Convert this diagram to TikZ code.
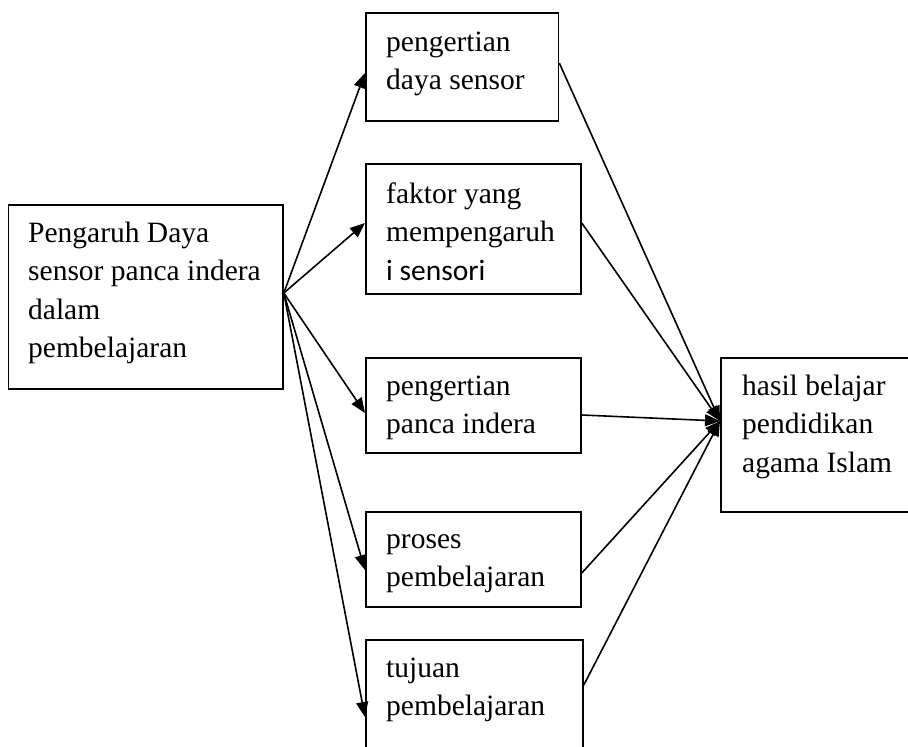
\documentclass[tikz,border=0pt]{standalone}
\usepackage{fontspec}
\setmainfont{Liberation Serif}
\newfontfamily\calfont{Carlito}
\usetikzlibrary{arrows.meta}
\begin{document}
\begin{tikzpicture}[x=1pt,y=-1pt,
  box/.style={draw, line width=1.8pt, inner sep=0pt, anchor=north west},
  txt/.style={inner sep=0pt, anchor=north west, align=left, font=\fontsize{29.5}{38.5}\selectfont},
  arr/.style={line width=1.6pt, -{Triangle[length=15pt,width=12pt]}}]
\useasboundingbox (0,0) rectangle (908,747);
% boxes
\node[box, minimum width=274.5pt, minimum height=184pt] (L) at (7.5,204) {};
\node[box, minimum width=192.5pt, minimum height=108pt] (B1) at (365,12) {};
\node[box, minimum width=215pt, minimum height=130pt] (B2) at (365,163) {};
\node[box, minimum width=215pt, minimum height=95pt] (B3) at (365,357) {};
\node[box, minimum width=215pt, minimum height=95pt] (B4) at (365,511) {};
\node[box, minimum width=217pt, minimum height=150pt] (B5) at (365,639) {};
\node[box, minimum width=220pt, minimum height=154pt] (R) at (720,357) {};
% texts (first baseline = top + 26.95)
\node[txt] (tL) at (28,215.05) {\strut Pengaruh Daya\\\strut sensor panca indera\\\strut dalam\\\strut pembelajaran};
\node[txt] (t1) at (386,24.05) {\strut pengertian\\\strut daya sensor};
\node[txt] (t2) at (386,176.05) {\strut faktor yang\\\strut mempengaruh\\\strut{\calfont i sensori}};
\node[txt] (t3) at (386,368.05) {\strut pengertian\\\strut panca indera};
\node[txt] (t4) at (386,521.05) {\strut proses\\\strut pembelajaran};
\node[txt] (t5) at (386,650.05) {\strut tujuan\\\strut pembelajaran};
\node[txt] (tR) at (742,368.05) {\strut hasil belajar\\\strut pendidikan\\\strut agama Islam};
% connectors from left box
\coordinate (src) at (L.east |- 0,293);
\draw[arr] (src) -- (B1.west |- 0,73);
\draw[arr] (src) -- (B2.west |- 0,223);
\draw[arr] (src) -- (B3.west |- 0,413);
\draw[arr] (src) -- (B4.west |- 0,570);
\draw[arr] (src) -- (B5.west |- 0,717);
% connectors into right box
\coordinate (dst) at (R.west |- 0,421);
\draw[arr] (B1.east |- 0,63) -- (dst);
\draw[arr] (B2.east |- 0,223) -- (dst);
\draw[arr] (B3.east |- 0,415) -- (dst);
\draw[arr] (B4.east |- 0,573) -- (dst);
\draw[arr] (B5.east |- 0,685) -- (dst);
\end{tikzpicture}
\end{document}
